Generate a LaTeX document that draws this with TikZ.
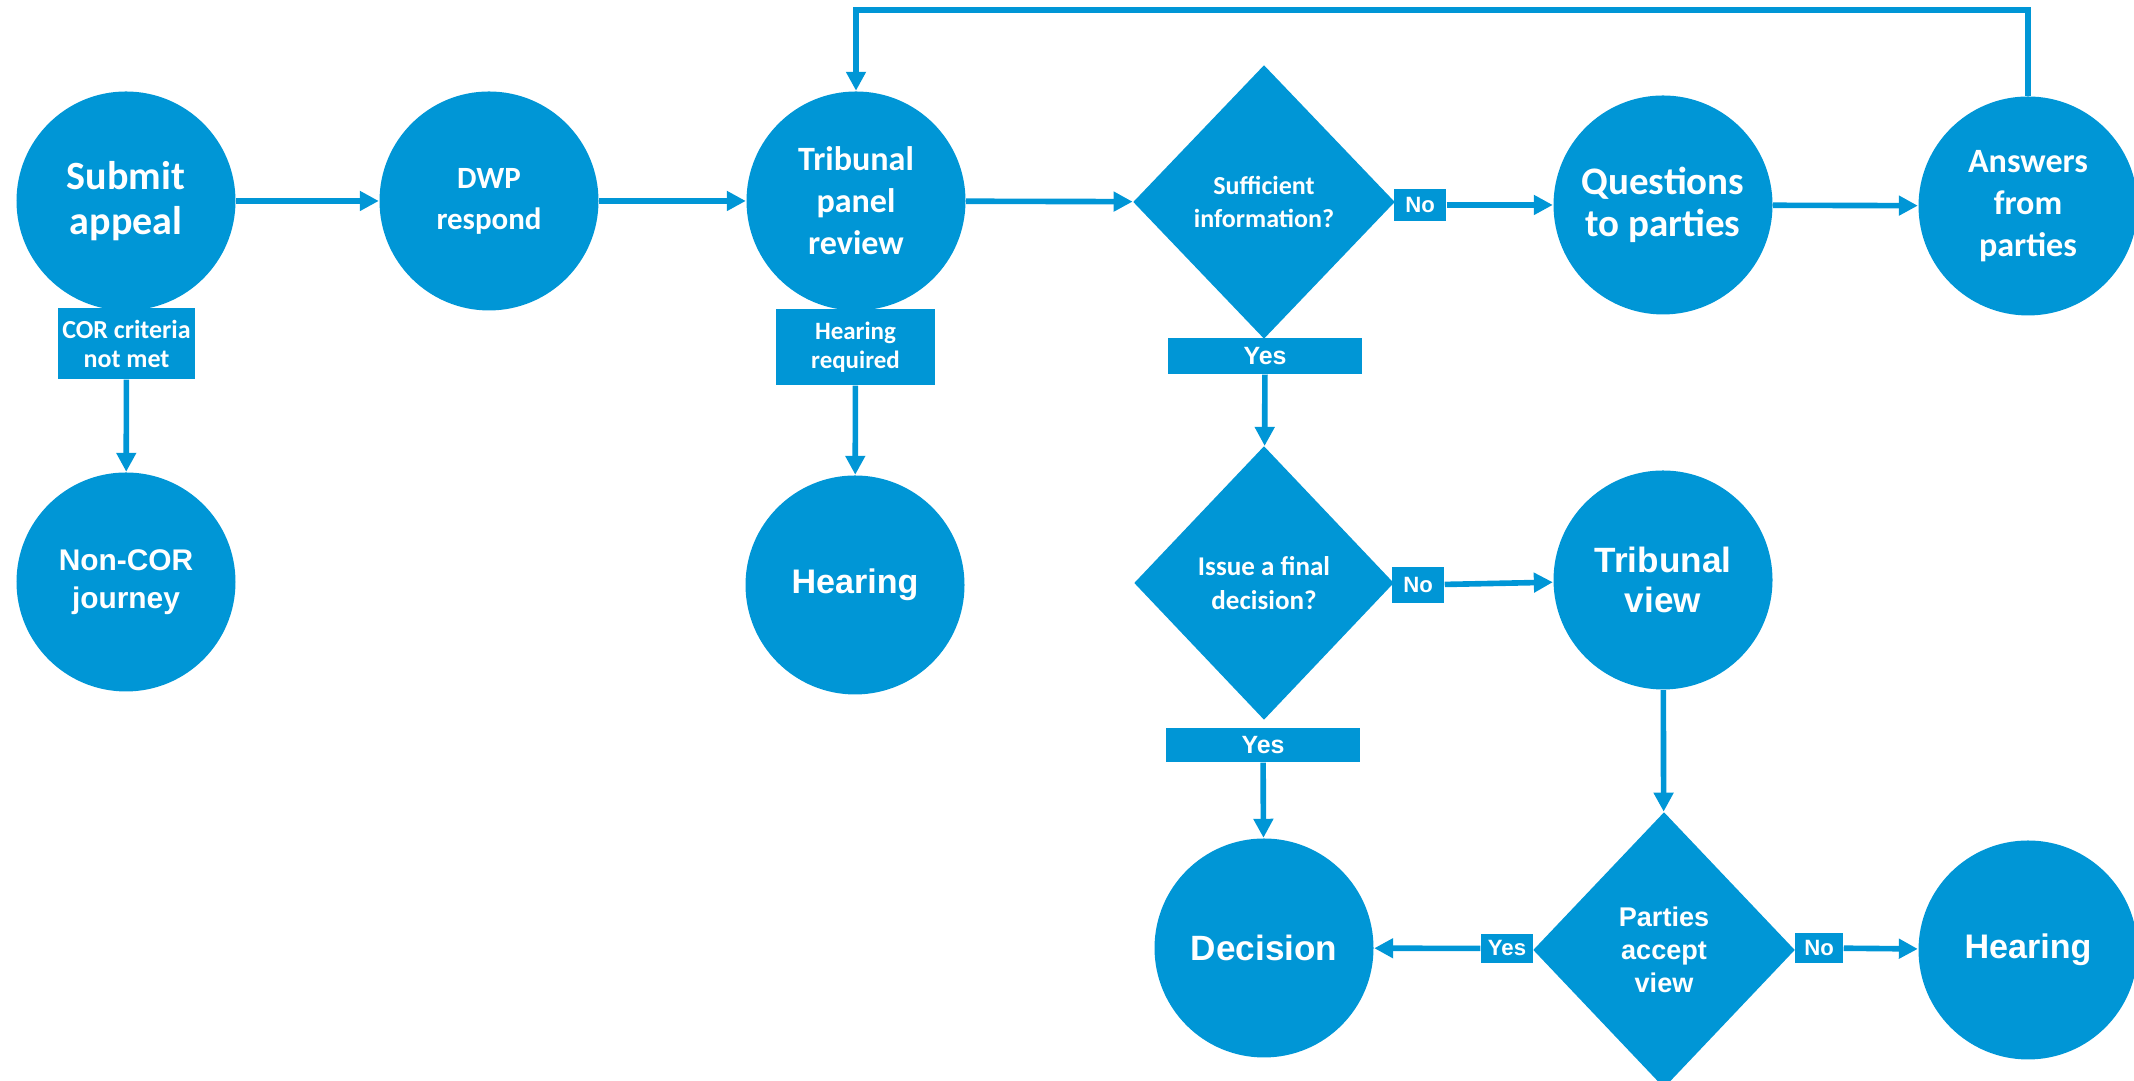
\documentclass[tikz,border=0pt]{standalone}
\usepackage{fontspec}
\setmainfont{Carlito}
\newfontfamily\arialfont{Liberation Sans}
\usetikzlibrary{shapes.geometric,arrows.meta}
\definecolor{flowblue}{RGB}{0,150,214}
\newcommand{\fs}[2]{\fontsize{#1}{#2}\selectfont\bfseries}

\begin{document}
\begin{tikzpicture}
[stage/.style={circle, fill=flowblue, text=white, minimum size=2.19cm, inner sep=0pt, align=center},
 query/.style={diamond, fill=flowblue, text=white, minimum width=2.62cm, minimum height=2.74cm, inner sep=0pt, align=center},
 tag/.style={rectangle, fill=flowblue, text=white, inner sep=0pt, align=center},
 flow/.style={draw=flowblue, line width=1.6pt, -{Triangle[length=0.19cm,width=0.19cm]}}]
\useasboundingbox (0,0) rectangle (21.34,10.81);

% top row
\node[stage,font={\fs{11.4}{12.8}}] (submit) at (1.26,8.80) {Submit\\appeal};
\node[stage,font={\fs{8.8}{11.7}}] (dwp) at (4.89,8.80) {DWP\\respond};
\node[stage,font={\fs{9.7}{11.9}}] (review) at (8.56,8.80) {Tribunal\\panel\\review};
\node[query,font={\fs{7.4}{9.4}}] (suff) at (12.64,8.79) {Sufficient\\information?};
\node[stage,font={\fs{11.1}{12}}] (qparties) at (16.63,8.76) {Questions\\to parties};
\node[stage,font={\fs{9.7}{12}}] (answers) at (20.28,8.75) {Answers\\from\\parties};

% middle row
\node[stage,font={\arialfont\fs{8.5}{10.8}}] (noncor) at (1.26,4.99) {Non-COR\\journey};
\node[stage,font={\arialfont\fs{9.7}{11}}] (hearing) at (8.55,4.96) {Hearing};
\node[query,minimum width=2.60cm,font={\fs{7.7}{9.7}}] (issue) at (12.64,4.98) {Issue a final\\decision?};
\node[stage,font={\arialfont\fs{10}{11.4}}] (tview) at (16.63,5.01) {Tribunal\\view};

% bottom row
\node[stage,font={\arialfont\fs{10}{11}}] (decision) at (12.64,1.33) {Decision};
\node[query,minimum height=2.76cm,font={\arialfont\fs{7.7}{9.4}}] (parties) at (16.64,1.31) {Parties\\accept\\view};
\node[stage,font={\arialfont\fs{9.7}{11}}] (hearingb) at (20.28,1.31) {Hearing};

% labels
\node[tag,minimum width=1.37cm,minimum height=0.71cm,font={\fs{7.4}{8.25}}] (cor) at (1.265,7.375) {COR criteria\\not met};
\node[tag,minimum width=1.59cm,minimum height=0.76cm,font={\fs{7.1}{8.25}}] (hreq) at (8.555,7.34) {Hearing\\required};
\node[tag,minimum width=1.94cm,minimum height=0.36cm,font={\arialfont\fs{7.1}{8}}] (yes1) at (12.65,7.25) {Yes};
\node[tag,minimum width=0.52cm,minimum height=0.32cm,font={\arialfont\fs{6.3}{7}}] (no1) at (14.20,8.76) {No};
\node[tag,minimum width=0.52cm,minimum height=0.36cm,font={\arialfont\fs{6.3}{7}}] (no2) at (14.18,4.96) {No};
\node[tag,minimum width=1.94cm,minimum height=0.34cm,font={\arialfont\fs{7.1}{8}}] (yes2) at (12.63,3.36) {Yes};
\node[tag,minimum width=0.52cm,minimum height=0.29cm,font={\arialfont\fs{6.3}{7}}] (yes3) at (15.07,1.325) {Yes};
\node[tag,minimum width=0.48cm,minimum height=0.30cm,font={\arialfont\fs{6.3}{7}}] (no3) at (18.19,1.33) {No};

\coordinate (top) at (0,10.71);

\draw[flow] (submit) -- (dwp);
\draw[flow] (dwp) -- (review);
\draw[flow] (review) -- (suff);
\draw[flow] (no1) -- (qparties);
\draw[flow] (qparties) -- (answers);
\draw[flow] (answers.north) -- (answers.north |- top) -- (review.north |- top) -- (review.north);
\draw[flow] (cor) -- (noncor);
\draw[flow] (hreq) -- (hearing);
\draw[flow] (yes1) -- (issue);
\draw[flow] (no2) -- (tview);
\draw[flow] (yes2) -- (decision);
\draw[flow] (tview) -- (parties);
\draw[flow] (yes3) -- (decision);
\draw[flow] (no3) -- (hearingb);
\end{tikzpicture}
\end{document}
